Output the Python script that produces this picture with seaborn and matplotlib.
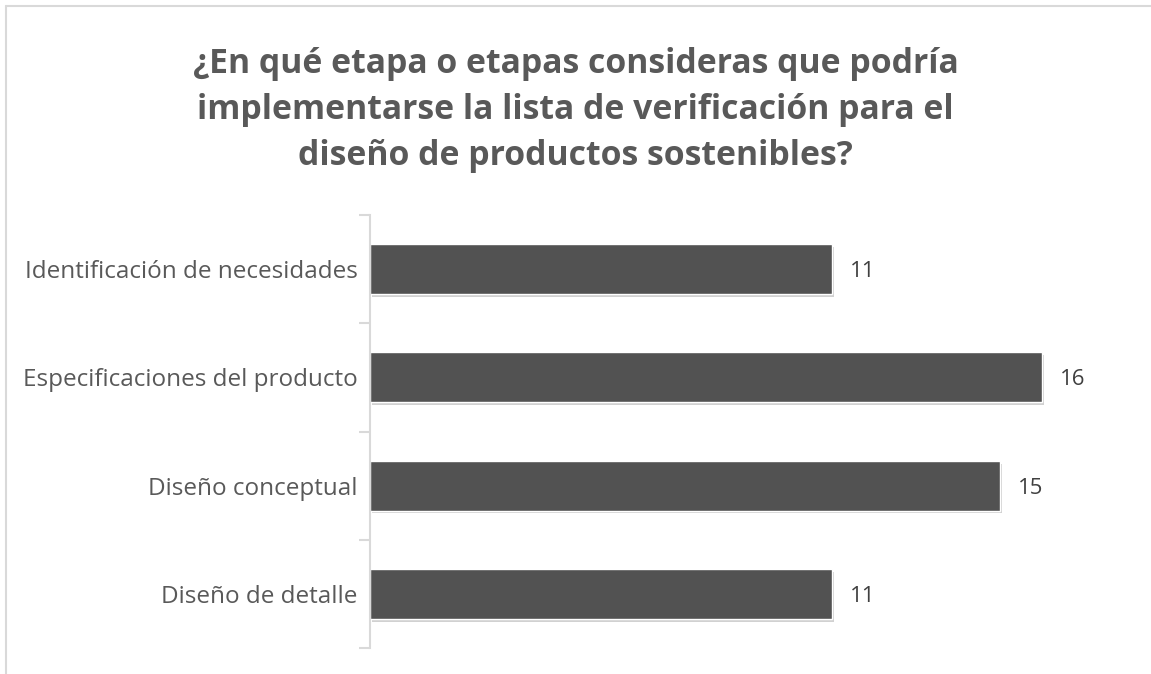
import matplotlib
matplotlib.use("Agg")
import matplotlib.pyplot as plt
import matplotlib.patheffects as pe
import seaborn as sns
import pandas as pd
import numpy as np

categories = ["Identificación de necesidades", "Especificaciones del producto",
              "Diseño conceptual", "Diseño de detalle"]
values = [11, 16, 15, 11]
title = "¿En qué etapa o etapas consideras que podría\nimplementarse la lista de verificación para el\ndiseño de productos sostenibles?"

sns.set_theme(style="white")
plt.rcParams['font.family'] = ['Open Sans', 'DejaVu Sans']

df = pd.DataFrame({"cat": categories, "val": values})

fig = plt.figure(figsize=(11.51, 6.74), dpi=100)
ax = fig.add_axes([370/1151, 1-648/674, (1126-370)/1151, (648-215)/674])

sns.barplot(data=df, y="cat", x="val", orient="h", color="#525252",
            saturation=1, width=0.46, ax=ax)
for p in ax.patches:
    p.set_path_effects([pe.SimplePatchShadow(offset=(1.5, -2), shadow_rgbFace="#000000", alpha=0.18),
                        pe.Normal()])

ax.set_xlim(0, 18)
ax.set_ylim(len(categories) - 0.5, -0.5)
ax.set_xlabel("")
ax.set_ylabel("")
ax.set_xticks([])

for i, v in enumerate(values):
    ax.text(v + 0.43, i, str(v), va="center_baseline", ha="left", fontsize=16, color="#404040")

for s in ["top", "right", "bottom"]:
    ax.spines[s].set_visible(False)
ax.spines["left"].set_color("#d9d9d9")
ax.spines["left"].set_linewidth(1.5)

ax.tick_params(axis="y", which="major", length=0, pad=9, labelsize=17.5, labelcolor="#595959")
ax.set_yticks(np.arange(-0.5, len(categories), 1.0), minor=True)
ax.tick_params(axis="y", which="minor", length=8, width=1.5, color="#d9d9d9", left=True)

fig.text(0.5, 1-110/674, title, ha="center", va="center", fontsize=24.3, fontweight="bold",
         color="#595959", linespacing=1.45)

# outer frame (top and left visible)
fig.add_artist(plt.Line2D([6/1151, 1], [1-6/674, 1-6/674], color="#d9d9d9", lw=1.5, transform=fig.transFigure))
fig.add_artist(plt.Line2D([6/1151, 6/1151], [0, 1-6/674], color="#d9d9d9", lw=1.5, transform=fig.transFigure))

fig.savefig("out.png", dpi=100, facecolor="white")
